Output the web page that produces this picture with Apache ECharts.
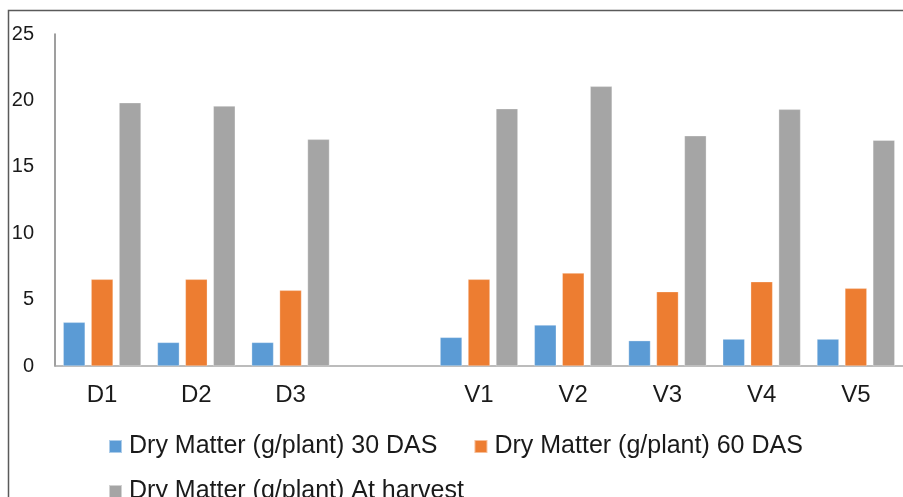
<!DOCTYPE html>
<html>
<head>
<meta charset="utf-8">
<script src="https://cdn.jsdelivr.net/npm/echarts@6/dist/echarts.min.js"></script>
<style>
html,body{margin:0;padding:0;background:#fff;}
#chart{width:903px;height:497px;}
</style>
</head>
<body>
<div id="chart"></div>
<script>
const categories = ['D1', 'D2', 'D3', '', 'V1', 'V2', 'V3', 'V4', 'V5'];
const seriesNames = [
  'Dry Matter (g/plant) 30 DAS',
  'Dry Matter (g/plant) 60 DAS',
  'Dry Matter (g/plant) At harvest'
];
const das30 = [3.29, 1.78, 1.78, null, 2.16, 3.09, 1.91, 2.03, 2.03];
const das60 = [6.53, 6.53, 5.70, null, 6.53, 7.00, 5.60, 6.35, 5.85];
const harvest = [19.83, 19.58, 17.07, null, 19.38, 21.06, 17.34, 19.33, 17.00];
const yTicks = { min: 0, max: 25, interval: 5 };
const colors = ['#5B9BD5', '#ED7D31', '#A5A5A5'];

const font = 'Liberation Sans, Arial, sans-serif';
const chart = echarts.init(document.getElementById('chart'), null, { renderer: 'canvas' });

function barSeries(name, data, color) {
  return {
    name: name,
    type: 'bar',
    data: data,
    barWidth: 22,
    barGap: '27%',
    itemStyle: { color: color, borderColor: 'rgba(255,255,255,0.5)', borderWidth: 0.6 },
    emphasis: { disabled: true }
  };
}

const legendText = { fontSize: 25, color: '#1a1a1a', fontFamily: font, padding: [0, 0, 0, 2] };

chart.setOption({
  animation: false,
  color: colors,
  textStyle: { fontFamily: font },
  graphic: [{
    type: 'rect',
    shape: { x: 8.5, y: 10.5, width: 1000, height: 1000 },
    style: { fill: 'none', stroke: '#5a5a5a', lineWidth: 1.5 },
    z: 100
  }],
  grid: { left: 55, right: -5, top: 34, bottom: 131, containLabel: false },
  legend: [{
    data: [seriesNames[0], seriesNames[1]],
    left: 103, top: 429,
    itemWidth: 13, itemHeight: 13, itemGap: 36,
    icon: 'rect',
    textStyle: legendText,
    selectedMode: false
  }, {
    data: [seriesNames[2]],
    left: 103, top: 474,
    itemWidth: 13, itemHeight: 13, itemGap: 36,
    icon: 'rect',
    textStyle: legendText,
    selectedMode: false
  }],
  xAxis: {
    type: 'category',
    data: categories,
    axisLine: { show: true, lineStyle: { color: '#a6a6a6', width: 1.5 } },
    axisTick: { show: false },
    axisLabel: { fontSize: 24, color: '#1a1a1a', margin: 17, fontFamily: font },
    splitLine: { show: false }
  },
  yAxis: {
    type: 'value',
    min: yTicks.min, max: yTicks.max, interval: yTicks.interval,
    axisLine: { show: true, lineStyle: { color: '#7f7f7f', width: 1.5 } },
    axisTick: { show: false },
    splitLine: { show: false },
    axisLabel: { fontSize: 20, color: '#1a1a1a', margin: 21, fontFamily: font }
  },
  series: [
    barSeries(seriesNames[0], das30, colors[0]),
    barSeries(seriesNames[1], das60, colors[1]),
    barSeries(seriesNames[2], harvest, colors[2])
  ]
});
</script>
</body>
</html>
